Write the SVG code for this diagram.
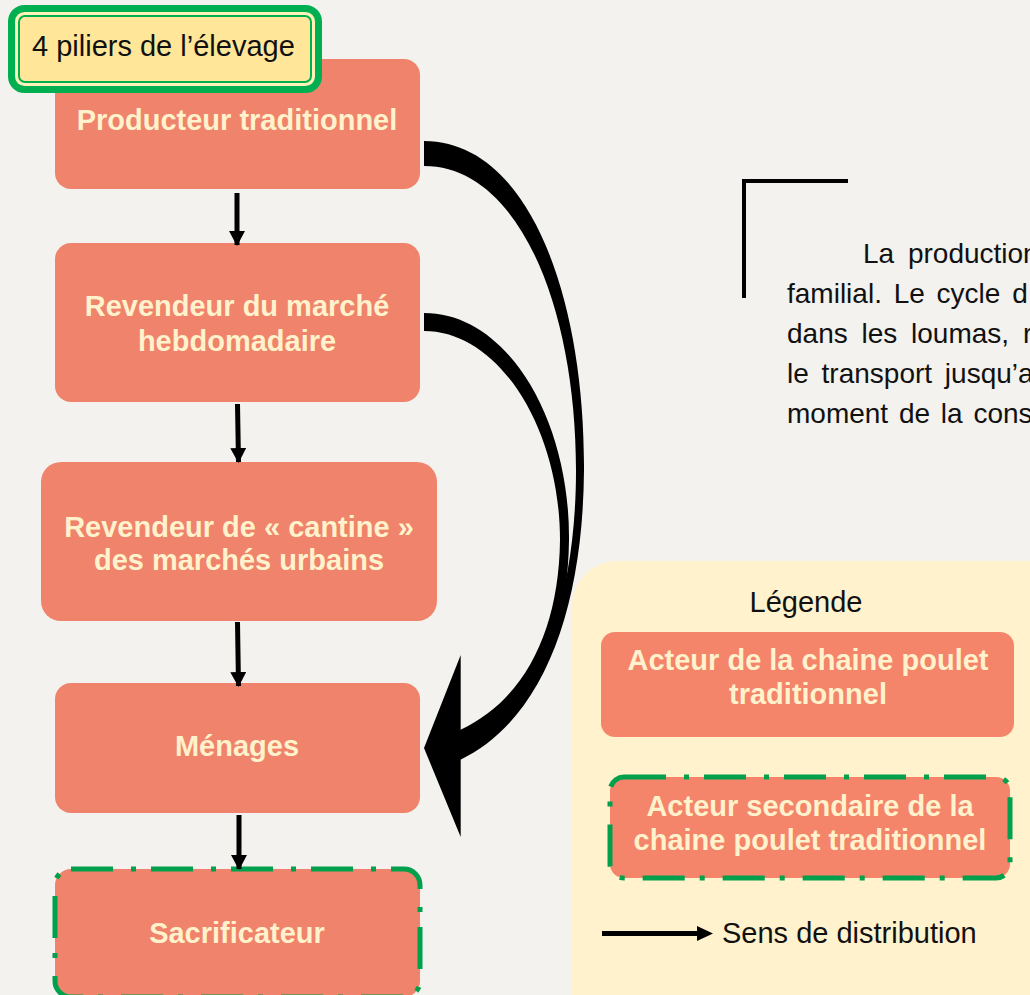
<svg xmlns="http://www.w3.org/2000/svg" width="1030" height="995" viewBox="0 0 1030 995">
  <defs>
    <style>
      .node { fill: #F0836B; }
      .lnode { fill: #F4856A; }
      .sec { stroke: #00A04C; stroke-width: 5; stroke-dasharray: 42 18 5 15; }
      .nt { font-family: "Liberation Sans", Arial, sans-serif; font-weight: bold; font-size: 29px; fill: #FFF2CC; text-anchor: middle; }
      .rt { font-family: "Liberation Sans", Arial, sans-serif; font-size: 29px; fill: #111111; }
      .pt { font-family: "Liberation Sans", Arial, sans-serif; font-size: 28px; fill: #111111; }
      .shaft { stroke: #000000; stroke-width: 5; fill: none; }
    </style>
    <marker id="ah" markerUnits="userSpaceOnUse" markerWidth="16" markerHeight="16" refX="14" refY="8" orient="auto">
      <path d="M0,0 L15,8 L0,16 Z" fill="#000000"/>
    </marker>
  </defs>

  <rect x="0" y="0" width="1030" height="995" fill="#F3F2EE"/>

  <!-- paragraph (cut at right edge) -->
  <g id="paragraph">
    <path d="M744,298 L744,181 L848,181" fill="none" stroke="#000000" stroke-width="4"/>
    <text class="pt" x="863" y="263" word-spacing="6">La production</text>
    <text class="pt" x="787" y="303" word-spacing="4">familial. Le cycle d</text>
    <text class="pt" x="787" y="343" word-spacing="6">dans les loumas, r</text>
    <text class="pt" x="787" y="383" word-spacing="5">le transport jusqu’a</text>
    <text class="pt" x="787" y="423" word-spacing="3">moment de la cons</text>
  </g>

  <!-- legend -->
  <g id="legend">
    <rect x="572" y="561" width="520" height="520" rx="45" fill="#FFF2CC"/>
    <text class="rt" x="806" y="612" text-anchor="middle">Légende</text>
    <g id="legend-actor">
      <rect class="lnode" x="601" y="632" width="413" height="105" rx="14"/>
      <text class="nt" x="808" y="670">Acteur de la chaine poulet</text>
      <text class="nt" x="808" y="704">traditionnel</text>
    </g>
    <g id="legend-secondary">
      <rect class="lnode sec" x="610" y="777" width="400" height="101" rx="14"/>
      <text class="nt" x="810" y="816">Acteur secondaire de la</text>
      <text class="nt" x="810" y="850">chaine poulet traditionnel</text>
    </g>
    <g id="legend-arrow">
      <line x1="602" y1="933.5" x2="700" y2="933.5" stroke="#000000" stroke-width="5"/>
      <path d="M697,926 L713,933.5 L697,941 Z" fill="#000000"/>
      <text class="rt" x="722" y="943">Sens de distribution</text>
    </g>
  </g>

  <!-- nodes -->
  <g id="n1">
    <rect class="node" x="55" y="59" width="365" height="130" rx="16"/>
    <text class="nt" x="237" y="130">Producteur traditionnel</text>
  </g>
  <g id="n2">
    <rect class="node" x="55" y="243" width="365" height="159" rx="16"/>
    <text class="nt" x="237" y="316">Revendeur du marché</text>
    <text class="nt" x="237" y="351">hebdomadaire</text>
  </g>
  <g id="n3">
    <rect class="node" x="41" y="462" width="396" height="159" rx="20"/>
    <text class="nt" x="239" y="537">Revendeur de « cantine »</text>
    <text class="nt" x="239" y="570">des marchés urbains</text>
  </g>
  <g id="n4">
    <rect class="node" x="55" y="683" width="365" height="130" rx="16"/>
    <text class="nt" x="237" y="756">Ménages</text>
  </g>
  <g id="n5">
    <rect class="node sec" x="55" y="869" width="365" height="128" rx="16"/>
    <text class="nt" x="237" y="943">Sacrificateur</text>
  </g>

  <g id="title">
    <rect x="11.5" y="8.5" width="307" height="81" rx="13" fill="#FFF2B8" stroke="#00B050" stroke-width="7"/>
    <rect x="19" y="16" width="292" height="66" rx="6" fill="#FFE699" stroke="#00B050" stroke-width="2"/>
    <text class="rt" x="32" y="56">4 piliers de l’élevage</text>
  </g>

  <!-- connectors -->
  <g id="connectors">
    <line class="shaft" x1="237" y1="193" x2="237" y2="245" marker-end="url(#ah)"/>
    <line class="shaft" x1="237.5" y1="404" x2="238.5" y2="462" marker-end="url(#ah)"/>
    <line class="shaft" x1="237.5" y1="622" x2="238.5" y2="686" marker-end="url(#ah)"/>
    <line class="shaft" x1="239" y1="815" x2="239" y2="869" marker-end="url(#ah)"/>
    <path d="M424,141 C530,141 585,300 584,470 C583,610 543,720 460,760 L460,745 C533,715 576,610 576,470 C576,310 520,166 424,166 Z" fill="#000000"/>
    <path d="M424,313 C508,313 570,420 569,540 C568,640 530,720 460,752 L460,730 C525,700 559,630 560,540 C560,430 500,331 424,331 Z" fill="#000000"/>
    <path d="M460.7,655 L424,748 L460.7,837 Z" fill="#000000"/>
  </g>
</svg>
